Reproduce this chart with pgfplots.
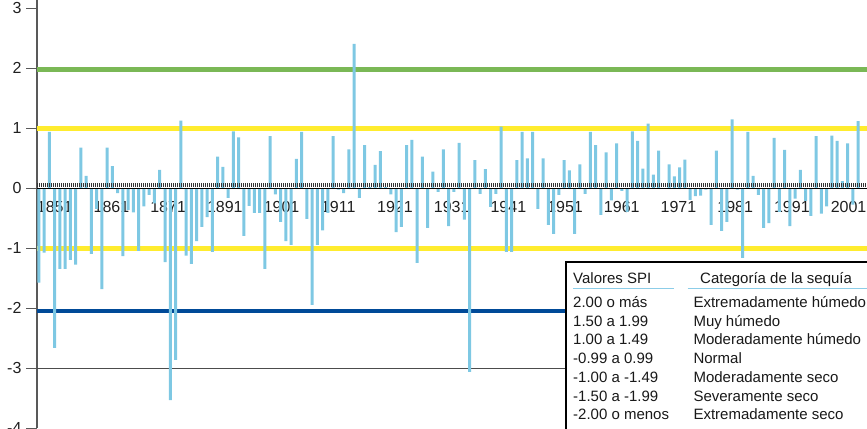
\documentclass[border=0pt]{standalone}
\usepackage{pgfplots}
\pgfplotsset{compat=1.18}
\usepackage{fontspec}
\setmainfont{Liberation Sans}
\definecolor{barblue}{RGB}{126,200,227}
\definecolor{lgreen}{RGB}{122,184,86}
\definecolor{lyellow}{RGB}{255,236,46}
\definecolor{dblue}{RGB}{0,74,152}
\definecolor{ulblue}{RGB}{140,205,232}
\begin{document}
\begin{tikzpicture}
\begin{axis}[
  scale only axis, width=830pt, height=428.4pt,
  xmin=1847.62, xmax=2005.71, ymin=-4, ymax=3.14,
  axis x line=middle, axis y line=left,
  axis line style={-},
  x axis line style={draw=none},
  y axis line style={draw=black!65, line width=1.3pt},
  ytick={-4,-3,-2,-1,0,1,2,3},
  yticklabels={-4,-3,-2,-1,0,1,2,3},
  ytick align=outside, major tick length=11pt,
  ytick style={black!65, line width=1.3pt},
  xtick={1851,1861.8,1872.6,1883.4,1894.2,1905,1915.8,1926.6,1937.4,1948.2,1959,1969.8,1980.6,1991.4,2002.2},
  xticklabels={1851,1861,1871,1891,1901,1911,1921,1931,1941,1951,1961,1971,1981,1991,2001},
  xtick style={draw=none},
  tick label style={font=\fontsize{16}{19}\selectfont, text=black!88},
  yticklabel style={xshift=-1pt},
  xticklabel style={yshift=-4pt},
]
\addplot[lgreen, line width=5pt] coordinates {(1847.62,1.985) (2005.71,1.985)};
\addplot[lyellow, line width=5.5pt] coordinates {(1847.62,1) (2005.71,1)};
\addplot[lyellow, line width=5.5pt] coordinates {(1847.62,-1) (2005.71,-1)};
\addplot[dblue, line width=3.5pt] coordinates {(1847.62,-2.04) (2005.71,-2.04)};
\addplot[black!70, line width=1.5pt] coordinates {(1847.62,-3) (2005.71,-3)};
\addplot[ybar, bar width=3pt, bar shift=0pt, fill=barblue, draw=none] coordinates {
(1848,-1.57) (1849,-1.07) (1850,0.94) (1851,-2.66) (1852,-1.34) (1853,-1.34) (1854,-1.19) (1855,-1.27) (1856,0.68) (1857,0.21)
(1858,-1.09) (1859,-0.34) (1860,-1.68) (1861,0.68) (1862,0.37) (1863,-0.08) (1864,-1.13) (1865,-0.36) (1866,-0.40) (1867,-1.04)
(1868,-0.30) (1869,-0.11) (1870,-0.25) (1871,0.31) (1872,-1.23) (1873,-3.53) (1874,-2.86) (1875,1.13) (1876,-1.12) (1877,-1.26)
(1878,-0.88) (1879,-0.64) (1880,-0.48) (1881,-1.06) (1882,0.53) (1883,0.36) (1884,-0.16) (1885,0.95) (1886,0.85) (1887,-0.79)
(1888,-0.29) (1889,-0.41) (1890,-0.41) (1891,-1.34) (1892,0.87) (1893,-0.10) (1894,-0.56) (1895,-0.88) (1896,-0.94) (1897,0.49)
(1898,0.94) (1899,-0.51) (1900,-1.94) (1901,-0.94) (1902,-0.70) (1903,-0.41) (1904,0.87) (1905,-0.02) (1906,-0.08) (1907,0.65)
(1908,2.41) (1909,-0.16) (1910,0.72) (1911,0.02) (1912,0.39) (1913,0.62) (1914,0.02) (1915,-0.10) (1916,-0.73) (1917,-0.64)
(1918,0.72) (1919,0.81) (1920,-1.24) (1921,0.53) (1922,-0.66) (1923,0.28) (1924,-0.06) (1925,0.65) (1926,-0.63) (1927,-0.06)
(1928,0.76) (1929,-0.52) (1930,-3.06) (1931,0.47) (1932,-0.09) (1933,0.32) (1934,-0.31) (1935,-0.09) (1936,1.03) (1937,-1.06)
(1938,-1.06) (1939,0.47) (1940,0.94) (1941,0.50) (1942,0.94) (1943,-0.34) (1944,0.50) (1945,-0.61) (1946,-0.76) (1947,-0.11)
(1948,0.47) (1949,0.30) (1950,-0.76) (1951,0.40) (1952,-0.09) (1953,0.94) (1954,0.72) (1955,-0.44) (1956,0.60) (1957,-0.20)
(1958,0.75) (1959,-0.04) (1960,-0.39) (1961,0.95) (1962,0.79) (1963,0.33) (1964,1.08) (1965,0.23) (1966,0.63) (1967,-0.01)
(1968,0.40) (1969,0.20) (1970,0.35) (1971,0.48) (1972,-0.19) (1973,-0.13) (1974,-0.12) (1975,-0.02) (1976,-0.61) (1977,0.63)
(1978,-0.71) (1979,-0.56) (1980,1.15) (1981,-0.02) (1982,-1.16) (1983,0.94) (1984,0.21) (1985,-0.11) (1986,-0.66) (1987,-0.58)
(1988,0.84) (1989,-0.39) (1990,0.64) (1991,-0.63) (1992,-0.17) (1993,0.31) (1994,-0.21) (1995,-0.46) (1996,0.87) (1997,-0.42)
(1998,-0.30) (1999,0.88) (2000,0.79) (2001,0.12) (2002,0.75) (2003,-0.27) (2004,1.12)
};
\addplot[black!80, line width=4pt, dash pattern=on 0.9pt off 1.1pt] coordinates {(1847.62,0.058) (2005.71,0.058)};
\addplot[black, line width=1.5pt] coordinates {(1847.62,0) (2005.71,0)};
\end{axis}
% table of categories
\fill[white, draw=black, line width=1.5pt] (529pt,166.3pt) rectangle (860pt,-20pt);
\draw[ulblue, line width=1.6pt] (536pt,140pt) -- (637pt,140pt);
\draw[ulblue, line width=1.6pt] (650.7pt,140pt) -- (835pt,140pt);
\begin{scope}[every node/.style={anchor=base west, inner sep=0pt, font=\fontsize{15}{18}\selectfont, text=black!90}]
\node at (536pt,145pt) {Valores SPI};
\node at (663pt,145pt) {Categoría de la sequía};
\node at (536pt,120.8pt) {2.00 o más};
\node at (536pt,102.1pt) {1.50 a 1.99};
\node at (536pt,83.4pt) {1.00 a 1.49};
\node at (536pt,64.7pt) {-0.99 a 0.99};
\node at (536pt,46.0pt) {-1.00 a -1.49};
\node at (536pt,27.3pt) {-1.50 a -1.99};
\node at (536pt,8.6pt) {-2.00 o menos};
\node at (656.3pt,120.8pt) {Extremadamente húmedo};
\node at (656.3pt,102.1pt) {Muy húmedo};
\node at (656.3pt,83.4pt) {Moderadamente húmedo};
\node at (656.3pt,64.7pt) {Normal};
\node at (656.3pt,46.0pt) {Moderadamente seco};
\node at (656.3pt,27.3pt) {Severamente seco};
\node at (656.3pt,8.6pt) {Extremadamente seco};
\end{scope}
\pgfresetboundingbox
\useasboundingbox (-37pt,0pt) rectangle (830pt,428.4pt);
\end{tikzpicture}
\end{document}
